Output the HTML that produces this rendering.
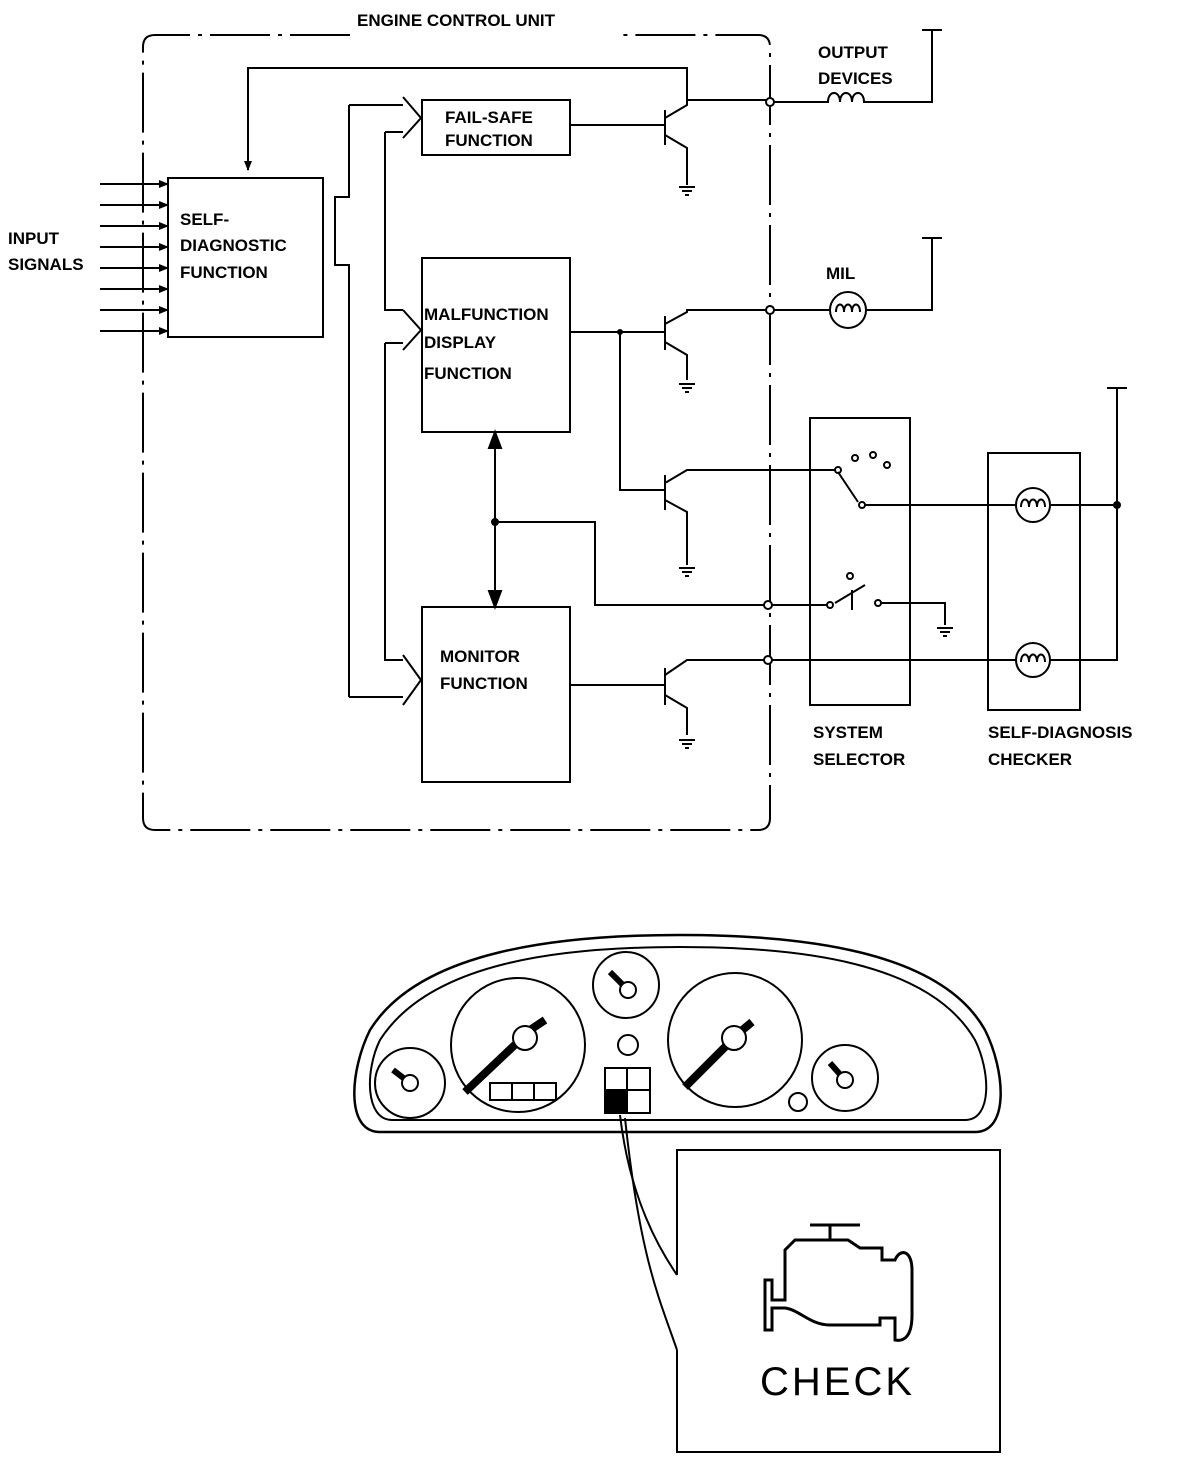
<!DOCTYPE html>
<html><head><meta charset="utf-8"><style>
body{margin:0;background:#fff}
text{font-family:"Liberation Sans",Arial,sans-serif;font-size:17px;fill:#000;font-weight:bold}
</style></head><body>
<svg width="1200" height="1460" viewBox="0 0 1200 1460" xmlns="http://www.w3.org/2000/svg" stroke="#000" stroke-width="2" fill="none">
<defs>
<marker id="a" markerWidth="10" markerHeight="10" refX="9" refY="5" orient="auto" markerUnits="userSpaceOnUse"><path d="M0,1 L10,5 L0,9z" fill="#000" stroke="none"/></marker>
<g id="gnd"><line x1="-8" y1="0" x2="8" y2="0"/><line x1="-5" y1="4" x2="5" y2="4"/><line x1="-2" y1="8" x2="2" y2="8"/></g>
</defs>
<path d="M350,35 H155 Q143,35 143,47 V818 Q143,830 155,830 H758 Q770,830 770,818 V47 Q770,35 758,35 H620" stroke-dasharray="60,8,4,8"/>
<text x="357" y="26" stroke="none">ENGINE CONTROL UNIT</text>
<text x="8" y="244" stroke="none">INPUT</text>
<text x="8" y="270" stroke="none">SIGNALS</text>
<g marker-end="url(#a)">
<line x1="100" y1="184" x2="168" y2="184"/><line x1="100" y1="205" x2="168" y2="205"/>
<line x1="100" y1="226" x2="168" y2="226"/><line x1="100" y1="247" x2="168" y2="247"/>
<line x1="100" y1="268" x2="168" y2="268"/><line x1="100" y1="289" x2="168" y2="289"/>
<line x1="100" y1="310" x2="168" y2="310"/><line x1="100" y1="331" x2="168" y2="331"/>
</g>
<rect x="168" y="178" width="155" height="159"/>
<text x="180" y="225" stroke="none">SELF-</text>
<text x="180" y="251" stroke="none">DIAGNOSTIC</text>
<text x="180" y="278" stroke="none">FUNCTION</text>
<path d="M687,100 V68 H248 V170" marker-end="url(#a)"/>
<!-- brace -->
<path d="M349,105 V197 H335 V265 H349 V697"/>
<path d="M349,105 H403"/><path d="M349,697 H403"/>
<path d="M385,132 V310 H403"/><path d="M385,343 V660 H403"/><path d="M385,132 H403"/><path d="M385,343 H403"/>
<path d="M403,97 L421,118 L403,138"/>
<path d="M403,310 L421,330 L403,350"/>
<path d="M403,655 L421,680 L403,705"/>
<rect x="422" y="100" width="148" height="55"/>
<text x="445" y="123" stroke="none">FAIL-SAFE</text>
<text x="445" y="146" stroke="none">FUNCTION</text>
<rect x="422" y="258" width="148" height="174"/>
<text x="424" y="320" stroke="none">MALFUNCTION</text>
<text x="424" y="348" stroke="none">DISPLAY</text>
<text x="424" y="379" stroke="none">FUNCTION</text>
<rect x="422" y="607" width="148" height="175"/>
<text x="440" y="662" stroke="none">MONITOR</text>
<text x="440" y="689" stroke="none">FUNCTION</text>
<line x1="495" y1="440" x2="495" y2="600" />
<path d="M495,432 L489,448 L501,448z M495,607 L489,591 L501,591z" fill="#000"/>
<circle cx="495" cy="522" r="3" fill="#000"/>
<path d="M495,522 H595 V605 H770"/>
<line x1="570" y1="125" x2="665" y2="125"/><line x1="665" y1="110" x2="665" y2="145"/>
<path d="M665,118 L687,105 V100 H770"/><path d="M665,135 L687,148 V185"/>
<use href="#gnd" x="687" y="187"/>
<line x1="570" y1="332" x2="665" y2="332"/><line x1="665" y1="316" x2="665" y2="350"/>
<path d="M665,324 L687,312 V310 H770"/><path d="M665,342 L687,355 V380"/><use href="#gnd" x="687" y="384"/>
<circle cx="620" cy="332" r="2" fill="#000"/>
<path d="M620,332 V490 H665"/><line x1="665" y1="475" x2="665" y2="510"/>
<path d="M665,483 L687,470 H835"/><path d="M665,500 L687,512 V565"/><use href="#gnd" x="687" y="568"/>
<line x1="570" y1="685" x2="665" y2="685"/><line x1="665" y1="668" x2="665" y2="705"/>
<path d="M665,675 L687,660 H1117 V388"/><path d="M665,695 L687,708 V735"/><use href="#gnd" x="687" y="740"/>
<g fill="#fff"><circle cx="770" cy="102" r="4"/><circle cx="770" cy="310" r="4"/><circle cx="768" cy="605" r="4"/><circle cx="768" cy="660" r="4"/></g>
<text x="818" y="58" stroke="none">OUTPUT</text>
<text x="818" y="84" stroke="none">DEVICES</text>
<path d="M774,102 H828 c0,-12 12,-12 12,0 c0,-12 12,-12 12,0 c0,-12 12,-12 12,0 H932 V30"/><line x1="922" y1="30" x2="942" y2="30"/>
<text x="826" y="279" stroke="none">MIL</text>
<line x1="774" y1="310" x2="830" y2="310"/>
<circle cx="848" cy="310" r="18"/>
<path d="M836,312 c0,-10 8,-10 8,0 c0,-10 8,-10 8,0 c0,-10 8,-10 8,0"/>
<path d="M866,310 H932 V238"/><line x1="922" y1="238" x2="942" y2="238"/>
<rect x="810" y="418" width="100" height="287"/>
<text x="813" y="738" stroke="none">SYSTEM</text>
<text x="813" y="765" stroke="none">SELECTOR</text>
<g fill="#fff"><circle cx="838" cy="470" r="3"/><circle cx="855" cy="458" r="3"/><circle cx="873" cy="455" r="3"/><circle cx="887" cy="465" r="3"/><circle cx="862" cy="505" r="3"/></g>
<line x1="838" y1="472" x2="858" y2="502"/>
<path d="M865,505 H1117"/>
<g fill="#fff"><circle cx="830" cy="605" r="3"/><circle cx="878" cy="603" r="3"/><circle cx="850" cy="576" r="3"/></g>
<line x1="772" y1="605" x2="827" y2="605"/>
<path d="M835,603 L865,585 M852,590 V610"/>
<path d="M881,603 H945 V625"/><use href="#gnd" x="945" y="628"/>
<rect x="988" y="453" width="92" height="257"/>
<text x="988" y="738" stroke="none">SELF-DIAGNOSIS</text>
<text x="988" y="765" stroke="none">CHECKER</text>
<circle cx="1033" cy="505" r="17" fill="#fff"/>
<path d="M1021,507 c0,-10 8,-10 8,0 c0,-10 8,-10 8,0 c0,-10 8,-10 8,0"/>
<circle cx="1033" cy="660" r="17" fill="#fff"/>
<path d="M1021,662 c0,-10 8,-10 8,0 c0,-10 8,-10 8,0 c0,-10 8,-10 8,0"/>
<circle cx="1117" cy="505" r="3" fill="#000"/>
<line x1="1107" y1="388" x2="1127" y2="388"/>
<path d="M380,1132 C345,1132 350,1070 370,1030 C420,950 560,935 680,935 C800,935 940,950 985,1030 C1005,1070 1010,1132 975,1132 Z" stroke-width="2.5"/>
<path d="M392,1120 C365,1120 365,1070 380,1040 C430,962 560,947 680,947 C800,947 930,962 975,1040 C990,1070 993,1120 965,1120 Z"/>
<circle cx="410" cy="1083" r="35"/><path d="M393,1070 L410,1083" stroke-width="6"/><circle cx="410" cy="1083" r="8" fill="#fff"/>
<circle cx="518" cy="1045" r="67"/><path d="M465,1092 L520,1040" stroke-width="8"/><path d="M530,1030 L545,1020" stroke-width="8"/><circle cx="525" cy="1038" r="12" fill="#fff"/>
<rect x="490" y="1083" width="66" height="17"/><line x1="512" y1="1083" x2="512" y2="1100"/><line x1="534" y1="1083" x2="534" y2="1100"/>
<circle cx="626" cy="985" r="33"/><path d="M610,972 L628,990" stroke-width="6"/><circle cx="628" cy="990" r="8" fill="#fff"/>
<circle cx="628" cy="1045" r="10"/>
<rect x="605" y="1068" width="45" height="45"/><line x1="627" y1="1068" x2="627" y2="1113"/><line x1="605" y1="1090" x2="650" y2="1090"/>
<rect x="605" y="1090" width="22" height="23" fill="#000"/>
<circle cx="735" cy="1040" r="67"/><path d="M685,1087 L730,1042" stroke-width="8"/><path d="M740,1032 L752,1022" stroke-width="8"/><circle cx="734" cy="1038" r="12" fill="#fff"/>
<circle cx="845" cy="1078" r="33"/><path d="M830,1063 L845,1080" stroke-width="6"/><circle cx="845" cy="1080" r="8" fill="#fff"/>
<circle cx="798" cy="1102" r="9"/>
<path d="M620,1115 C630,1200 660,1250 677,1275"/>
<path d="M625,1118 C640,1260 660,1300 677,1350"/>
<path d="M677,1275 V1150 H1000 V1452 H677 V1350"/>
<path d="M785,1282 V1300 H772 V1280 H765 V1330 H772 V1308 H785 C800,1310 810,1325 830,1325 H880 V1318 H895 V1340 C905,1342 912,1335 912,1315 V1270 C912,1250 900,1248 895,1260 H882 V1248 H860 L848,1240 H795 L785,1250 Z" stroke-width="3"/>
<path d="M830,1240 V1225 M810,1225 H860" stroke-width="3"/>
<text x="760" y="1395" stroke="none" style="font-size:40px;letter-spacing:3px;font-weight:normal">CHECK</text>
</svg>
</body></html>
